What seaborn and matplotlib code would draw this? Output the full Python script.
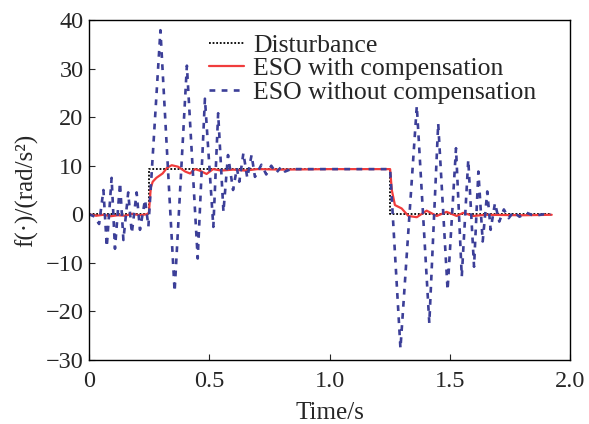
import matplotlib
matplotlib.use("Agg")
import matplotlib.pyplot as plt
import seaborn as sns
import pandas as pd

# Disturbance (step)
dist_t = [0.0, 0.25, 0.25, 1.252, 1.252, 1.92]
dist_v = [0.0, 0.0, 9.3, 9.3, 0.0, 0.0]

# ESO with compensation (red)
red_t = [0.0, 0.03, 0.06, 0.09, 0.12, 0.15, 0.18, 0.21, 0.24, 0.249, 0.257, 0.265,
         0.28, 0.306, 0.325, 0.344, 0.37, 0.40, 0.42, 0.441, 0.46, 0.489, 0.516,
         0.55, 0.60, 0.65, 0.70, 0.80, 1.0, 1.252, 1.259, 1.272, 1.300, 1.328,
         1.363, 1.404, 1.446, 1.487, 1.529, 1.556, 1.598, 1.65, 1.80, 1.924]
red_v = [0.0, -0.3, -0.1, -0.4, -0.2, -0.3, 0.1, -0.2, 0.0, 0.3, 5.5, 6.7,
         7.5, 8.4, 9.6, 10.1, 9.8, 8.8, 8.4, 9.3, 9.0, 8.3, 9.3,
         9.0, 9.2, 9.0, 9.3, 9.2, 9.3, 9.3, 5.0, 1.9, 1.2, -0.35,
         -0.6, 0.75, -0.35, 0.5, -0.35, 0.3, -0.35, -0.1, -0.2, -0.1]

# ESO without compensation (blue dashed) — extrema
blue_t = [0.0, 0.025, 0.042, 0.060, 0.074, 0.094, 0.108, 0.129, 0.143, 0.163,
          0.178, 0.198, 0.212, 0.233, 0.247, 0.297, 0.356, 0.407, 0.452, 0.482,
          0.517, 0.537, 0.559, 0.578, 0.599, 0.615, 0.625, 0.642, 0.658, 0.676,
          0.690, 0.717, 0.737, 0.758, 0.778, 0.800, 0.815, 0.840, 1.0, 1.252,
          1.295, 1.363, 1.415, 1.452, 1.491, 1.526, 1.550, 1.577, 1.601, 1.619,
          1.637, 1.656, 1.670, 1.688, 1.706, 1.725, 1.745, 1.765, 1.790, 1.820,
          1.850, 1.890, 1.920]
blue_v = [0.0, -0.5, -2.0, 5.0, -6.7, 7.5, -7.1, 6.5, -5.3, 4.5,
          -3.9, 4.5, -3.2, 3.0, -2.5, 37.9, -15.9, 30.6, -9.1, 23.8,
          -2.6, 20.8, 0.5, 12.2, 5.0, 9.5, 6.7, 12.6, 7.5, 12.2,
          7.7, 10.2, 8.2, 10.0, 8.5, 9.8, 8.8, 9.3, 9.3, 9.3,
          -27.6, 22.3, -22.4, 18.7, -15.6, 13.6, -12.8, 11.2, -10.8, 8.8,
          -5.6, 4.7, -3.2, 2.3, -1.5, 1.0, -0.8, 0.5, -0.5, 0.3,
          -0.3, 0.0, 0.0]

x_ticks = [0.0, 0.5, 1.0, 1.5, 2.0]
x_ticklabels = ["0", "0.5", "1.0", "1.5", "2.0"]
y_ticks = [-30, -20, -10, 0, 10, 20, 30, 40]

sns.set_style("white")
plt.rcParams['font.family'] = ['Liberation Serif', 'DejaVu Serif']
plt.rcParams['axes.unicode_minus'] = True

fig = plt.figure(figsize=(5.89, 4.24), dpi=100)
ax = fig.add_axes([89/589, 64/424, (570-89)/589, (360-20)/424])

df_d = pd.DataFrame({"t": dist_t, "v": dist_v})
df_r = pd.DataFrame({"t": red_t, "v": red_v})
df_b = pd.DataFrame({"t": blue_t, "v": blue_v})

sns.lineplot(data=df_d, x="t", y="v", ax=ax, estimator=None, sort=False,
             color="black", linewidth=1.3, linestyle=(0, (1, 1)), label="Disturbance")
sns.lineplot(data=df_r, x="t", y="v", ax=ax, estimator=None, sort=False,
             color="#f03c3c", linewidth=1.6, label="ESO with compensation")
sns.lineplot(data=df_b, x="t", y="v", ax=ax, estimator=None, sort=False,
             color="#3c3f98", linewidth=1.9, linestyle=(0, (2.2, 2.4)),
             label="ESO without compensation")

ax.set_xlim(0, 2.0)
ax.set_ylim(-30, 40)
ax.set_xticks(x_ticks)
ax.set_xticklabels(x_ticklabels)
ax.set_yticks(y_ticks)
ax.tick_params(direction="in", length=4, width=0.8, labelsize=17.5,
               top=False, right=False, bottom=True, left=True)
ax.tick_params(axis="x", pad=8)
ax.tick_params(axis="y", pad=4)
for s in ax.spines.values():
    s.set_color("black")
    s.set_linewidth(1.0)

ax.set_xlabel("Time/s", fontsize=18, labelpad=7)
ax.set_ylabel("f(·)/(rad/s²)", fontsize=18, labelpad=5)

leg = ax.legend(loc="upper left", bbox_to_anchor=(0.25, 0.96), frameon=False,
                fontsize=18.5, handlelength=1.35, handletextpad=0.35,
                labelspacing=0.03, borderaxespad=0.0, borderpad=0.0)

fig.savefig("out.png", dpi=100)
